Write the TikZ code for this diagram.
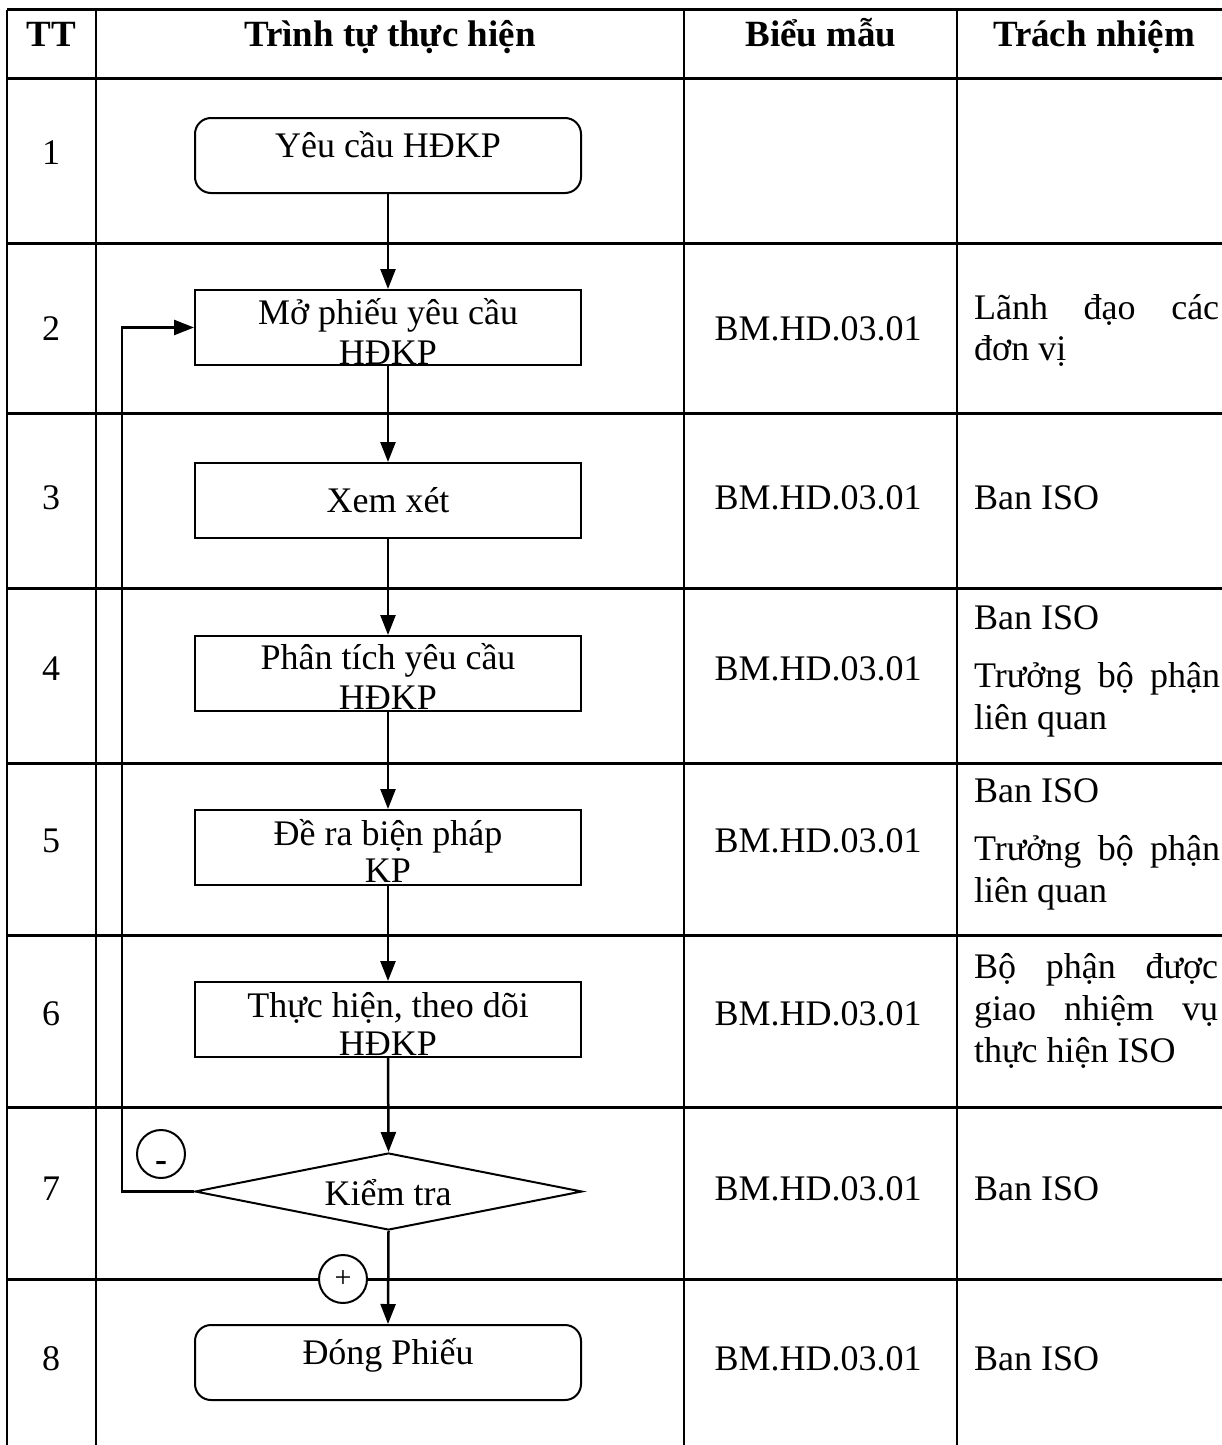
\documentclass[tikz,border=0pt]{standalone}
\usepackage{fontspec}
\setmainfont{Liberation Serif}
\usetikzlibrary{shapes.geometric,arrows.meta}
\begin{document}
\begin{tikzpicture}[x=1pt,y=-1pt,
  txt/.style={font=\fontsize{36}{42}\selectfont, inner sep=0pt, anchor=base},
  ltxt/.style={txt, anchor=base west},
  hdr/.style={font=\fontsize{37}{42}\selectfont\bfseries, inner sep=0pt, anchor=base},
  proc/.style={draw, line width=2pt, minimum width=386pt, minimum height=75pt, inner sep=0pt},
  term/.style={proc, rounded corners=16pt},
  deci/.style={draw, diamond, line width=2pt, minimum width=387pt, minimum height=77pt, inner sep=0pt},
  flow/.style={line width=2.5pt, -{Triangle[length=20pt,width=15pt]}},
  hline/.style={line width=3pt},
  vline/.style={line width=2pt},
  sign/.style={draw, circle, line width=2pt, fill=white, minimum size=48pt, inner sep=0pt, font=\fontsize{30}{30}\selectfont}
]
\useasboundingbox (0,0) rectangle (1222,1445);
\fill[white] (0,0) rectangle (1222,1445);

% table
\foreach \yy in {10,78,243,413,588,763,935,1107,1279}
  \draw[hline] (7,\yy) -- (1222,\yy);
\foreach \xx in {7,96,684,957}
  \draw[vline] (\xx,10) -- (\xx,1445);

% header
\node[hdr] (hTT) at (51,47) {TT};
\node[hdr] (hSeq) at (390,47) {Trình tự thực hiện};
\node[hdr] (hForm) at (821,47) {Biểu mẫu};
\node[hdr] (hResp) at (1094,47) {Trách nhiệm};

% row numbers and forms
\foreach \n/\yy in {1/164,2/340,3/509,4/680,5/852,6/1025,7/1200,8/1370}
  \node[txt] (num\n) at (51,\yy) {\n};
\foreach \n/\yy in {2/340,3/509,4/680,5/852,6/1025,7/1200,8/1370}
  \node[txt] (form\n) at (818,\yy) {BM.HD.03.01};

% process shapes
\node[term] (b1) at (388,155.5) {};
\node[proc] (b2) at (388,327.5) {};
\node[proc] (b3) at (388,500.5) {};
\node[proc] (b4) at (388,673.5) {};
\node[proc] (b5) at (388,847.5) {};
\node[proc] (b6) at (388,1019.5) {};
\node[deci] (b7) at (388.5,1191.5) {};
\node[term] (b8) at (388,1362.5) {};

% process texts
\node[txt] (t1) at (388,157) {Yêu cầu HĐKP};
\node[txt] (t2a) at (388,324) {Mở phiếu yêu cầu};
\node[txt] (t2b) at (388,364) {HĐKP};
\node[txt] (t3) at (388,512) {Xem xét};
\node[txt] (t4a) at (388,669) {Phân tích yêu cầu};
\node[txt] (t4b) at (388,709) {HĐKP};
\node[txt] (t5a) at (388,845) {Đề ra biện pháp};
\node[txt] (t5b) at (388,882) {KP};
\node[txt] (t6a) at (388,1017) {Thực hiện, theo dõi};
\node[txt] (t6b) at (388,1055) {HĐKP};
\node[txt] (t7) at (388,1205) {Kiểm tra};
\node[txt] (t8) at (388,1364) {Đóng Phiếu};

% connectors
\draw[flow] (b1.south) -- (b2.north);
\draw[flow] (b2.south) -- (b3.north);
\draw[flow] (b3.south) -- (b4.north);
\draw[flow] (b4.south) -- (b5.north);
\draw[flow] (b5.south) -- (b6.north);
\draw[flow] (b6.south) -- (b7.north);
\draw[flow] (b7.south) -- (b8.north);
\draw[flow] (b7.west) -- ++(-72,0) |- (b2.west);

% decision signs
\node[sign] (minus) at (161,1154) {\smash{\raisebox{-17pt}{\fontsize{36}{36}\selectfont\bfseries -}}};
\node[sign] (plus) at (343,1279) {+};

% responsibilities
\node[ltxt] (r2a) at (974,319) {\makebox[245pt][s]{Lãnh đạo các}};
\node[ltxt] (r2b) at (974,360) {đơn vị};
\node[ltxt] (r3) at (974,509) {Ban ISO};
\node[ltxt] (r4a) at (974,629) {Ban ISO};
\node[ltxt] (r4b) at (974,687) {\makebox[246pt][s]{Trưởng bộ phận}};
\node[ltxt] (r4c) at (974,729) {liên quan};
\node[ltxt] (r5a) at (974,802) {Ban ISO};
\node[ltxt] (r5b) at (974,860) {\makebox[246pt][s]{Trưởng bộ phận}};
\node[ltxt] (r5c) at (974,902) {liên quan};
\node[ltxt] (r6a) at (974,978) {\makebox[244pt][s]{Bộ phận được}};
\node[ltxt] (r6b) at (974,1020) {\makebox[244pt][s]{giao nhiệm vụ}};
\node[ltxt] (r6c) at (974,1062) {thực hiện ISO};
\node[ltxt] (r7) at (974,1200) {Ban ISO};
\node[ltxt] (r8) at (974,1370) {Ban ISO};
\end{tikzpicture}
\end{document}
